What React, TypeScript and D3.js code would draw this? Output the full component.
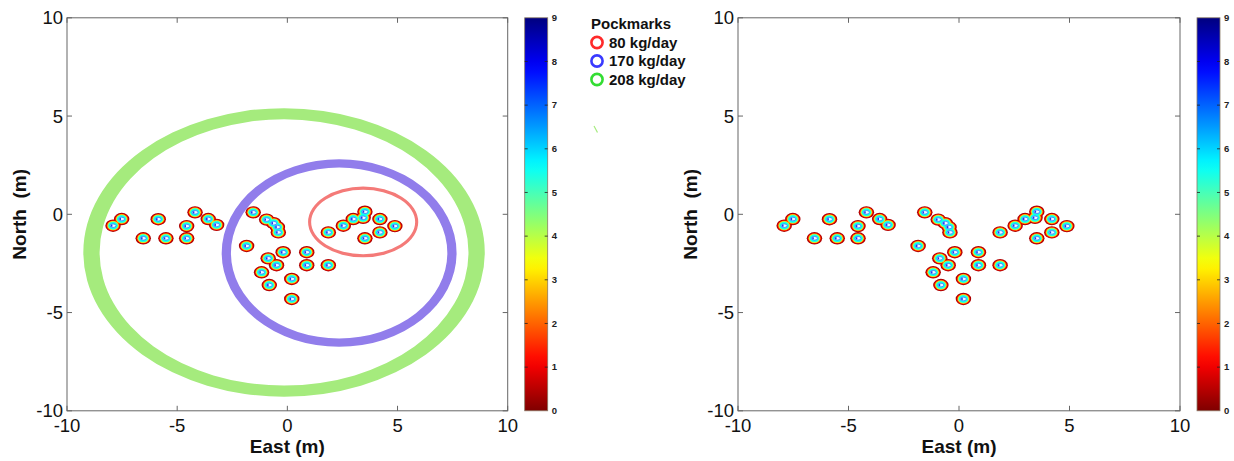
import React from "react";
import * as d3 from "d3";

// ---- data ----
const POCK_X = [-7.52, -7.91, -5.86, -4.19, -3.59, -3.21, -4.57, -6.54, -5.51, -4.57,
  -1.55, -0.94, -0.62, -0.45, -0.41, -1.85, -0.19, 0.88, -0.87, -0.49, 0.88, 1.86,
  -1.17, 0.2, -0.82, 0.2, 1.86, 2.54, 2.99, 3.44, 3.52, 4.2, 4.88, 4.2, 3.52];
const POCK_Y = [-0.24, -0.58, -0.25, 0.1, -0.24, -0.54, -0.6, -1.22, -1.22, -1.22,
  0.1, -0.27, -0.45, -0.65, -0.92, -1.61, -1.93, -1.93, -2.24, -2.59, -2.59, -2.59,
  -2.95, -3.29, -3.6, -4.31, -0.92, -0.58, -0.24, -0.18, 0.13, -0.24, -0.6, -0.92, -1.22];

const RING_LABELS = ["208 kg/day", "170 kg/day", "80 kg/day"];
const RING_CX = [-0.15, 2.35, 3.44];
const RING_CY = [-1.94, -1.97, -0.39];
const RING_RX_OUT = [9.11, 5.33, 2.5];
const RING_RY_OUT = [7.34, 4.77, 1.8];
const RING_RX_IN = [8.37, 4.91, 2.36];
const RING_RY_IN = [6.77, 4.35, 1.64];
const RING_COLORS = ["#a5eb7d", "#917deb", "#f47a78"];

const LEGEND_TITLE = "Pockmarks";
const LEGEND_LABELS = ["80 kg/day", "170 kg/day", "208 kg/day"];
const LEGEND_COLORS = ["#ff2a2a", "#3a3aff", "#33dd33"];

const AXIS_TICKS = [-10, -5, 0, 5, 10];
const CBAR_TICKS = [0, 1, 2, 3, 4, 5, 6, 7, 8, 9];

// ---- styles ----
const JET = ["#7f0000", "#ff0000", "#ff7f00", "#ffff00", "#7fff7f", "#00ffff", "#007fff", "#0000ff", "#00007f"];
const jetScale = d3.scaleLinear<string>()
  .domain([0, 9 * 1 / 8, 9 * 2 / 8, 9 * 3 / 8, 9 * 4 / 8, 9 * 5 / 8, 9 * 6 / 8, 9 * 7 / 8, 9])
  .range(JET)
  .interpolate(d3.interpolateRgb);

const BLOB_R = 0.35;
const LEVELS = [
  { v: 0.4, f: 1.0 },
  { v: 1.3, f: 0.86 },
  { v: 2.4, f: 0.77 },
  { v: 3.4, f: 0.71 },
  { v: 4.5, f: 0.66 },
  { v: 5.5, f: 0.6 },
];

const FONT = "'Liberation Sans', Arial, sans-serif";
const Y0 = 410.8;
const Y1 = 17.8;

function annulus(cx: number, cy: number, rxo: number, ryo: number, rxi: number, ryi: number) {
  const e = (rx: number, ry: number) =>
    `M${cx - rx},${cy}A${rx},${ry} 0 1 0 ${cx + rx},${cy}A${rx},${ry} 0 1 0 ${cx - rx},${cy}Z`;
  return e(rxo, ryo) + e(rxi, ryi);
}

function Panel({ x0, x1, showRings, id }: { x0: number; x1: number; showRings: boolean; id: string }) {
  const x = d3.scaleLinear().domain([-10, 10]).range([x0, x1]);
  const y = d3.scaleLinear().domain([-10, 10]).range([Y0, Y1]);
  const cbX = x1 + 17;
  const cbW = 23;
  const cy = d3.scaleLinear().domain([0, 9]).range([Y0, Y1]);
  const idx = d3.range(POCK_X.length);
  const stops = d3.range(0, 9.01, 0.25);
  return (
    <g>
      <defs>
        <linearGradient id={`cb-${id}`} x1="0" y1="1" x2="0" y2="0">
          {stops.map((s) => (
            <stop key={s} offset={s / 9} stopColor={jetScale(s)} />
          ))}
        </linearGradient>
        <clipPath id={`clip-${id}`}>
          <rect x={x0} y={Y1} width={x1 - x0} height={Y0 - Y1} />
        </clipPath>
      </defs>
      <rect x={x0} y={Y1} width={x1 - x0} height={Y0 - Y1} fill="#fff" />
      <g clipPath={`url(#clip-${id})`}>
        {showRings &&
          RING_CX.map((c, i) => {
            const px = x(c);
            const py = y(RING_CY[i]);
            return (
              <path
                key={i}
                d={annulus(px, py,
                  x(c + RING_RX_OUT[i]) - px, py - y(RING_CY[i] + RING_RY_OUT[i]),
                  x(c + RING_RX_IN[i]) - px, py - y(RING_CY[i] + RING_RY_IN[i]))}
                fill={RING_COLORS[i]}
                fillRule="evenodd"
              />
            );
          })}
        {LEVELS.map((lv, li) => (
          <g key={li} fill={jetScale(lv.v)}>
            {idx.map((i) => (
              <ellipse
                key={i}
                cx={x(POCK_X[i])}
                cy={y(POCK_Y[i])}
                rx={x(BLOB_R * lv.f) - x(0)}
                ry={y(0) - y(BLOB_R * lv.f * 0.9)}
              />
            ))}
          </g>
        ))}
        <g fill="#eafcff" stroke="#3a66ff" strokeWidth={0.7}>
          {idx.map((i) => (
            <ellipse
              key={i}
              cx={x(POCK_X[i])}
              cy={y(POCK_Y[i])}
              rx={x(BLOB_R * 0.38) - x(0)}
              ry={y(0) - y(BLOB_R * 0.26)}
            />
          ))}
        </g>
        <g fill="#1a3cf0">
          {idx.map((i) => (
            <rect
              key={i}
              x={x(POCK_X[i] - 0.1)}
              y={y(POCK_Y[i]) - 1}
              width={x(0.07) - x(0)}
              height={2}
            />
          ))}
        </g>
      </g>
      {/* frame */}
      <rect x={x0} y={Y1} width={x1 - x0} height={Y0 - Y1} fill="none" stroke="#666" strokeWidth={1} />
      {AXIS_TICKS.map((t) => (
        <g key={`t${t}`} stroke="#666" strokeWidth={1}>
          <line x1={x(t)} x2={x(t)} y1={Y0} y2={Y0 - 5} />
          <line x1={x(t)} x2={x(t)} y1={Y1} y2={Y1 + 5} />
          <line x1={x0} x2={x0 + 5} y1={y(t)} y2={y(t)} />
          <line x1={x1} x2={x1 - 5} y1={y(t)} y2={y(t)} />
        </g>
      ))}
      <g fontFamily={FONT} fontSize={18.5} fill="#111">
        {AXIS_TICKS.map((t) => (
          <text key={`xl${t}`} x={x(t)} y={432} textAnchor="middle">
            {t}
          </text>
        ))}
        {AXIS_TICKS.map((t) => (
          <text key={`yl${t}`} x={x0 - 4} y={y(t)} dy="0.35em" textAnchor="end">
            {t}
          </text>
        ))}
      </g>
      <text x={(x0 + x1) / 2} y={453} textAnchor="middle" fontFamily={FONT} fontWeight="bold" fontSize={19} fill="#111">
        East (m)
      </text>
      <text
        transform={`translate(${x0 - 41},${(Y0 + Y1) / 2}) rotate(-90)`}
        textAnchor="middle"
        fontFamily={FONT}
        fontWeight="bold"
        fontSize={19}
        fill="#111"
        style={{ whiteSpace: "pre" }}
      >
        {"North  (m)"}
      </text>
      {/* colorbar */}
      <rect x={cbX} y={Y1} width={cbW} height={Y0 - Y1} fill={`url(#cb-${id})`} stroke="#8a7a66" strokeWidth={0.8} />
      {CBAR_TICKS.map((t) => (
        <g key={`cb${t}`}>
          {t > 0 && t < 9 && (
            <g stroke="#222" strokeWidth={0.8}>
              <line x1={cbX} x2={cbX + 3} y1={cy(t)} y2={cy(t)} />
              <line x1={cbX + cbW} x2={cbX + cbW - 3} y1={cy(t)} y2={cy(t)} />
            </g>
          )}
          <text x={cbX + cbW + 4} y={cy(t)} dy="0.35em" fontFamily={FONT} fontWeight="bold" fontSize={9.5} fill="#222">
            {t}
          </text>
        </g>
      ))}
    </g>
  );
}

export default function App() {
  return (
    <svg width={1234} height={461} style={{ position: "absolute", left: 0, top: 0, background: "#fff" }}>
      <rect width={1234} height={461} fill="#fff" />
      <Panel x0={67} x1={507.7} showRings={true} id="a" />
      <Panel x0={738} x1={1180} showRings={false} id="b" />
      {/* legend */}
      <g fontFamily={FONT} fontWeight="bold" fill="#111">
        <text x={591} y={29} fontSize={15}>
          {LEGEND_TITLE}
        </text>
        {LEGEND_LABELS.map((l, i) => (
          <g key={l}>
            <circle cx={597} cy={42.5 + i * 18.5} r={5.6} fill="none" stroke={LEGEND_COLORS[i]} strokeWidth={2.6} />
            <text x={609} y={42.5 + i * 18.5} dy="0.36em" fontSize={15}>
              {l}
            </text>
          </g>
        ))}
      </g>
      <line x1={594} y1={126} x2={597.5} y2={132.5} stroke="#a5eb7d" strokeWidth={1.2} />
    </svg>
  );
}
